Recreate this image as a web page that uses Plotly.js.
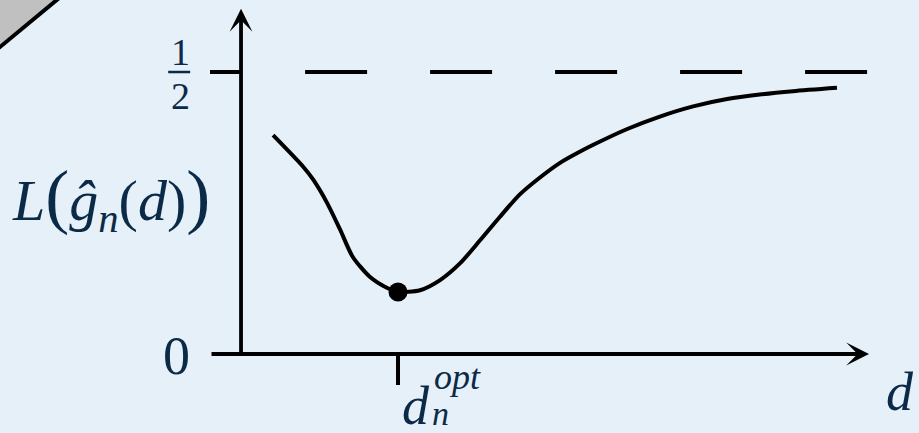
<!DOCTYPE html>
<html>
<head>
<meta charset="utf-8">
<script src="https://cdn.plot.ly/plotly-3.0.1.min.js"></script>
<style>
  html, body { margin: 0; padding: 0; background: #e6f0f8; }
  #chart { width: 919px; height: 433px; }
</style>
</head>
<body>
<div id="chart"></div>
<script>
// Loss curve L(ĝ_n(d)) as a function of the model dimension d
const dValues = [0.51, 0.99, 1.15, 1.37, 1.58, 1.78, 2.05, 2.33, 2.50, 2.85, 3.17, 3.49, 3.81, 4.12, 4.44, 4.76, 5.08, 5.40, 5.61, 6.15, 6.67, 7.20, 7.74, 8.26, 8.79, 9.49];
const lossValues = [0.388, 0.332, 0.309, 0.268, 0.220, 0.172, 0.137, 0.117, 0.110, 0.113, 0.131, 0.161, 0.202, 0.243, 0.283, 0.313, 0.339, 0.359, 0.371, 0.399, 0.421, 0.439, 0.452, 0.460, 0.466, 0.472];

// Optimal dimension and the asymptotic level
const dOpt = [2.5];
const lossAtOpt = [0.110];
const asymptote = 0.5;
const asymptoteSpan = [1.02, 10.0];

// Axis extents (in data units)
const xAxisEnd = 10.0;
const yAxisEnd = 0.606;
const tickStubX = -0.494;

const ink = '#0b2a47';
const serif = 'Liberation Serif';

const traces = [
  {
    x: asymptoteSpan, y: [asymptote, asymptote],
    mode: 'lines', line: {color: '#000', width: 4, dash: '62px,63px'},
    hoverinfo: 'skip', showlegend: false
  },
  {
    x: dValues, y: lossValues,
    mode: 'lines', line: {color: '#000', width: 4, shape: 'spline', smoothing: 0.7},
    hoverinfo: 'skip', showlegend: false
  },
  {
    x: dOpt, y: lossAtOpt,
    mode: 'markers', marker: {color: '#000', size: 19},
    hoverinfo: 'skip', showlegend: false
  }
];

const shapes = [
  // folded corner
  {type: 'path', xref: 'paper', yref: 'paper',
   path: 'M 0 1 L 0.062 1 L 0 0.8915 Z',
   fillcolor: '#c0c0c0', line: {color: '#c0c0c0', width: 0}, layer: 'above'},
  {type: 'line', xref: 'paper', yref: 'paper',
   x0: 0.064, y0: 1.004, x1: -0.002, y1: 0.888,
   line: {color: '#000', width: 4}},
  // tick at 1/2
  {type: 'line', x0: tickStubX, x1: 0, y0: asymptote, y1: asymptote,
   line: {color: '#000', width: 4}},
  // tick at d_opt
  {type: 'line', x0: dOpt[0], x1: dOpt[0], y0: 0, y1: -0.055,
   line: {color: '#000', width: 4}},
  // fraction bar of 1/2
  {type: 'line', x0: -1.16, x1: -0.81, y0: asymptote, y1: asymptote,
   line: {color: ink, width: 2.5}}
];

const annotations = [
  // x axis with arrow
  {x: xAxisEnd, y: 0, ax: tickStubX, ay: 0, xref: 'x', yref: 'y', axref: 'x', ayref: 'y',
   showarrow: true, arrowhead: 3, arrowsize: 1.0, arrowwidth: 3.8, arrowcolor: '#000', text: ''},
  // y axis with arrow
  {x: 0, y: 0.612, ax: 0, ay: -0.004, xref: 'x', yref: 'y', axref: 'x', ayref: 'y',
   showarrow: true, arrowhead: 3, arrowsize: 1.0, arrowwidth: 3.8, arrowcolor: '#000', text: ''},
  // tick labels
  {x: -0.971, y: 0.535, text: '1', showarrow: false, font: {family: serif, size: 38, color: ink}},
  {x: -0.971, y: 0.458, text: '2', showarrow: false, font: {family: serif, size: 38, color: ink}},
  {x: -1.035, y: -0.004, text: '0', showarrow: false, font: {family: serif, size: 54, color: ink}},
  // axis titles
  {x: -2.07, y: 0.275, showarrow: false, font: {family: serif, size: 58, color: ink},
   text: '<i>L</i><span style="font-size:72px">(</span><i>ĝ</i><sub><i>n</i></sub>(<i>d</i>)<span style="font-size:72px">)</span>'},
  {x: 10.494, y: -0.067, text: '<i>d</i>', showarrow: false, font: {family: serif, size: 54, color: ink}},
  // d_n^opt label
  {x: 2.787, y: -0.092, text: '<i>d</i>', showarrow: false, font: {family: serif, size: 54, color: ink}},
  {x: 3.45, y: -0.041, text: '<i>opt</i>', showarrow: false, font: {family: serif, size: 36, color: ink}},
  {x: 3.169, y: -0.105, text: '<i>n</i>', showarrow: false, font: {family: serif, size: 34, color: ink}}
];

const layout = {
  width: 919, height: 433,
  margin: {l: 0, r: 0, t: 0, b: 0, pad: 0},
  paper_bgcolor: '#e6f0f8', plot_bgcolor: '#e6f0f8',
  font: {family: serif},
  xaxis: {range: [-3.838, 10.796], visible: false, fixedrange: true},
  yaxis: {range: [-0.1401, 0.6277], visible: false, fixedrange: true},
  shapes: shapes,
  annotations: annotations,
  showlegend: false
};

Plotly.newPlot('chart', traces, layout, {staticPlot: true, displayModeBar: false});
</script>
</body>
</html>
